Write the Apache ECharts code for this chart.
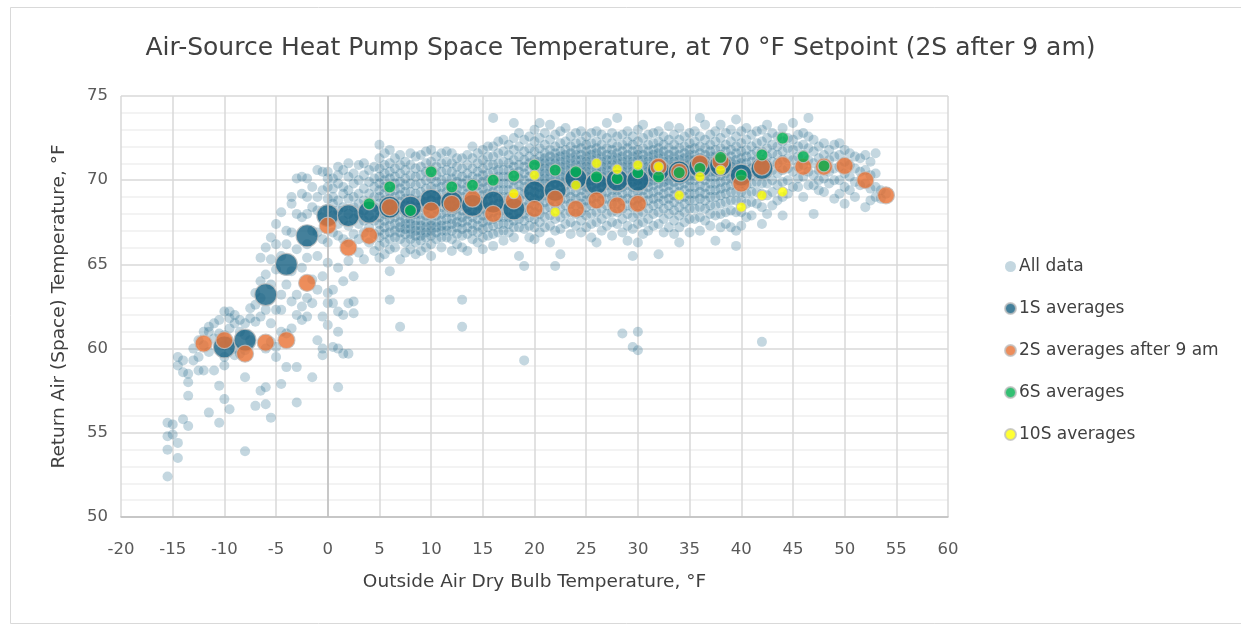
<!DOCTYPE html>
<html>
<head>
<meta charset="utf-8">
<script src="https://cdn.jsdelivr.net/npm/echarts@6/dist/echarts.min.js"></script>
<style>
html,body{margin:0;padding:0;background:#fff;}
#chart{width:1241px;height:624px;}
</style>
</head>
<body>
<div id="chart"></div>
<script>
// ---- Averages ----
const s1X = [-10,-8,-6,-4,-2,0,2,4,6,8,10,12,14,16,18,20,22,24,26,28,30,32,34,36,38,40,42];
const s1Y = [60.1,60.5,63.2,65.0,66.7,67.9,67.9,68.1,68.4,68.4,68.8,68.7,68.5,68.7,68.3,69.3,69.4,70.1,69.8,70.0,70.0,70.6,70.5,70.8,70.9,70.3,70.7];

const s2X = [-12,-10,-8,-6,-4,-2,0,2,4,6,10,12,14,16,18,20,22,24,26,28,30,32,34,36,38,40,42,44,46,48,50,52,54];
const s2Y = [60.3,60.5,59.7,60.35,60.5,63.9,67.3,66.0,66.7,68.4,68.2,68.6,68.9,68.0,68.8,68.3,68.9,68.3,68.8,68.5,68.6,70.8,70.5,71.0,71.1,69.8,70.8,70.9,70.8,70.8,70.85,70.0,69.1];

const s6X = [4,6,8,10,12,14,16,18,20,22,24,26,28,30,32,34,36,38,40,42,44,46,48];
const s6Y = [68.6,69.6,68.2,70.5,69.6,69.7,70.0,70.25,70.9,70.6,70.5,70.2,70.1,70.45,70.2,70.45,70.7,71.35,70.3,71.5,72.5,71.4,70.85];

const s10X = [18,20,22,24,26,28,30,32,34,36,38,40,42,44];
const s10Y = [69.2,70.3,68.1,69.7,71.0,70.65,70.9,70.8,69.1,70.2,70.6,68.4,69.1,69.3];

// ---- All data (estimated cloud, grouped by outside-air temperature) ----
const cloudX = [
-15.5,-15,-14.5,-14,-13.5,-13,-12.5,-12,-11.5,-11,-10.5,-10,-9.5,-9,-8.5,-8,-7.5,-7,-6.5,-6,-5.5,-5,-4.5,-4,-3.5,-3,-2.5,-2,-1.5,-1,-0.5,
0,0.5,1,1.5,2,2.5,3,3.5,4,4.5,
5,5.5,6,6.5,7,7.5,8,8.5,9,9.5,10,10.5,11,11.5,12,12.5,13,13.5,14,14.5,15,15.5,16,16.5,17,17.5,18,18.5,19,19.5,20,
20.5,21,21.5,22,22.5,23,23.5,24,24.5,25,25.5,26,26.5,27,27.5,28,28.5,29,29.5,30,
30.5,31,31.5,32,32.5,33,33.5,34,34.5,35,35.5,36,36.5,37,37.5,38,38.5,39,39.5,40,
40.5,41,41.5,42,42.5,43,43.5,44,44.5,45,45.5,46,46.5,47,47.5,48,48.5,49,49.5,50,
50.5,51,51.5,52,52.5,53,53.5,54
];
const cloudY = [
[55.6,54.8,54.0,52.4],
[55.5,54.9],
[59.5,59.0,54.4,53.5],
[59.3,58.6,55.8],
[58.5,58.0,57.2,55.4],
[60.0,59.3],
[60.5,59.5,58.7],
[61.0,60.2,58.7],
[61.3,61.0,59.8,56.2],
[61.5,60.6,58.7],
[61.7,60.9,57.8,55.6],
[62.2,60.8,60.2,59.5,59.0,57.0],
[62.2,61.8,61.2,60.4,56.4],
[62.0,61.5,60.0,59.6],
[61.7,61.0,59.7],
[61.5,60.8,59.9,58.3,53.9],
[62.4,61.8,60.5],
[63.3,62.6,61.6,56.6],
[65.4,64.0,63.0,61.9,57.5],
[66.0,64.4,62.3,60.0,57.7,56.7],
[66.6,65.3,63.8,61.5,60.4,55.9],
[67.4,66.2,64.7,62.3,60.1,59.5],
[68.1,65.5,63.2,62.3,61.0,57.9],
[67.0,66.2,63.8,60.9,58.9],
[69.0,68.6,66.9,64.6,62.8,61.2],
[70.1,68.0,65.9,63.2,62.0,58.9,56.8],
[70.2,69.2,67.8,64.8,62.5,61.7],
[70.1,69.0,68.0,66.2,65.4,63.0,61.9],
[69.6,68.4,67.0,64.1,62.7,58.3],
[70.6,69.0,68.2,66.9,65.5,63.5,60.5],
[70.5,69.4,67.8,66.5,64.3,61.9,60.0,59.6],
[70.5,70.1,69.6,68.9,68.3,67.5,66.3,65.1,63.3,62.7,61.4],
[70.1,69.5,69.0,68.6,67.9,66.9,63.5,62.7,60.1],
[70.8,70.3,69.8,68.8,68.2,67.4,66.7,64.8,62.2,61.0,60.0,57.7],
[70.6,69.6,69.2,68.4,67.6,66.5,64.0,62.0,59.7],
[71.0,70.2,69.4,68.9,68.0,67.3,66.3,65.2,62.7,59.7],
[70.4,69.8,69.0,68.4,67.7,66.8,64.3,62.8,62.1],
[70.9,70.0,69.2,68.6,68.0,67.4,66.5,65.7],
[71.0,70.3,69.5,68.8,68.2,67.6,66.9,65.3],
[70.6,69.9,69.2,68.6,67.9,67.2,66.3],
[70.8,70.1,69.6,69.0,68.4,67.6,66.8,65.8],
[72.1,71.3,70.7,70.2,69.8,69.4,69.0,68.6,68.2,67.8,67.4,67.0,66.6,66.1,65.4],
[71.6,70.9,70.4,70.0,69.6,69.2,68.8,68.4,68.0,67.6,67.2,66.8,66.3,65.6],
[71.8,71.0,70.5,70.1,69.7,69.3,68.9,68.5,68.1,67.7,67.3,66.9,66.5,65.9,64.6,62.9],
[71.3,70.7,70.2,69.8,69.4,69.0,68.6,68.2,67.8,67.4,67.0,66.6,66.0],
[71.5,70.9,70.4,69.9,69.5,69.1,68.7,68.3,67.9,67.5,67.2,66.9,66.5,65.3,61.3],
[71.1,70.6,70.1,69.7,69.3,68.9,68.5,68.1,67.7,67.4,67.1,66.8,66.3,65.7],
[71.6,70.9,70.3,69.8,69.3,68.9,68.5,68.1,67.7,67.4,67.1,66.8,66.5,65.9],
[71.4,70.7,70.2,69.7,69.2,68.8,68.4,68.0,67.6,67.3,67.0,66.7,66.3,65.6],
[71.5,70.8,70.3,69.8,69.3,68.8,68.4,68.0,67.6,67.3,67.0,66.7,66.4,65.8],
[71.7,71.0,70.5,70.0,69.5,69.1,68.7,68.3,67.9,67.5,67.2,66.9,66.6,66.0],
[71.8,71.1,70.6,70.1,69.6,69.2,68.8,68.4,68.0,67.6,67.3,67.0,66.7,66.2,65.5],
[71.4,70.8,70.3,69.9,69.5,69.1,68.7,68.3,67.9,67.5,67.2,66.9,66.5],
[71.6,71.0,70.5,70.0,69.6,69.2,68.8,68.4,68.0,67.6,67.3,67.0,66.6,66.0],
[71.7,71.1,70.6,70.1,69.7,69.3,68.9,68.5,68.1,67.7,67.3,67.0,66.6],
[71.6,71.0,70.5,70.1,69.7,69.3,68.9,68.5,68.1,67.7,67.4,67.0,66.5,65.8],
[71.3,70.8,70.3,69.9,69.5,69.1,68.7,68.3,67.9,67.5,67.2,66.8,66.2],
[71.3,70.7,70.2,69.8,69.4,69.0,68.6,68.2,67.8,67.5,67.1,66.7,66.0,62.9,61.3],
[71.5,70.9,70.4,70.0,69.6,69.2,68.8,68.4,68.0,67.6,67.2,66.8,65.8],
[72.0,71.3,70.7,70.2,69.8,69.4,69.0,68.6,68.2,67.8,67.4,67.0,66.5],
[71.6,71.0,70.5,70.1,69.7,69.3,68.9,68.5,68.1,67.7,67.3,66.9,66.3],
[71.8,71.2,70.7,70.3,69.9,69.5,69.1,68.7,68.3,67.9,67.5,67.1,66.6,65.9],
[72.0,71.4,70.9,70.4,70.0,69.6,69.2,68.8,68.4,68.0,67.6,67.2,66.7],
[73.7,72.0,71.4,70.9,70.5,70.1,69.7,69.3,68.9,68.5,68.1,67.7,67.3,66.8,66.1],
[72.3,71.6,71.0,70.6,70.2,69.8,69.4,69.0,68.6,68.2,67.8,67.4,66.9],
[72.4,71.7,71.1,70.6,70.2,69.8,69.4,69.0,68.6,68.2,67.8,67.4,67.0,66.4],
[72.1,71.5,71.0,70.6,70.2,69.8,69.4,69.0,68.6,68.2,67.8,67.4,66.9],
[73.4,72.5,71.8,71.2,70.8,70.4,70.0,69.6,69.2,68.8,68.4,68.0,67.6,67.2,66.6],
[72.8,72.0,71.4,70.9,70.5,70.1,69.7,69.3,68.9,68.5,68.1,67.7,67.2,65.5],
[72.4,71.7,71.2,70.8,70.4,70.0,69.6,69.2,68.8,68.4,68.0,67.6,67.1,64.9,59.3],
[72.6,71.9,71.4,71.0,70.6,70.2,69.8,69.4,69.0,68.6,68.2,67.8,67.3,66.6],
[73.0,72.3,71.7,71.2,70.8,70.4,70.0,69.7,69.3,68.9,68.5,68.1,67.7,67.2,66.5],
[73.4,72.5,71.9,71.4,71.1,70.8,70.5,70.2,69.9,69.6,69.2,68.8,68.4,68.0,67.5,66.9],
[72.8,72.1,71.6,71.3,71.0,70.7,70.4,70.1,69.8,69.5,69.1,68.7,68.3,67.8,67.2],
[73.3,72.4,71.8,71.4,71.1,70.8,70.5,70.2,69.9,69.6,69.2,68.8,68.4,67.9,67.3,66.3],
[72.7,72.0,71.6,71.3,71.0,70.7,70.4,70.1,69.8,69.4,69.0,68.6,68.2,67.7,67.0,64.9],
[72.9,72.2,71.7,71.4,71.1,70.8,70.5,70.2,69.9,69.6,69.2,68.8,68.3,67.8,67.1,65.6],
[73.1,72.3,71.8,71.5,71.2,70.9,70.6,70.3,70.0,69.7,69.3,68.9,68.5,68.0,67.4],
[72.6,72.0,71.6,71.3,71.0,70.7,70.4,70.1,69.8,69.4,69.0,68.6,68.1,67.5,66.8],
[72.8,72.2,71.8,71.5,71.2,70.9,70.6,70.3,70.0,69.7,69.3,68.9,68.5,68.0,67.3],
[72.9,72.3,71.9,71.5,71.2,70.9,70.6,70.3,70.0,69.7,69.4,69.0,68.6,68.1,67.6,66.9],
[72.6,72.1,71.7,71.4,71.1,70.8,70.5,70.2,69.9,69.6,69.2,68.8,68.4,67.9,67.2],
[72.8,72.2,71.8,71.5,71.2,70.9,70.6,70.3,70.0,69.7,69.3,68.9,68.5,68.0,67.4,66.6],
[72.9,72.3,71.9,71.6,71.3,71.0,70.7,70.4,70.1,69.8,69.4,69.0,68.6,68.1,67.5,66.3],
[72.7,72.1,71.7,71.4,71.1,70.8,70.5,70.2,69.9,69.6,69.2,68.8,68.3,67.7,67.0],
[73.4,72.5,71.9,71.5,71.2,70.9,70.6,70.3,70.0,69.7,69.3,68.9,68.5,68.0,67.3],
[72.8,72.2,71.8,71.5,71.2,70.9,70.6,70.3,70.0,69.7,69.4,69.0,68.6,68.1,67.5,66.7],
[73.7,72.6,72.0,71.6,71.3,71.0,70.7,70.4,70.1,69.8,69.4,69.0,68.6,68.1,67.4],
[72.7,72.1,71.7,71.4,71.1,70.8,70.5,70.2,69.9,69.6,69.2,68.8,68.3,67.7,66.9,60.9],
[72.9,72.3,71.9,71.5,71.2,70.9,70.6,70.3,70.0,69.7,69.3,68.9,68.5,68.0,67.3,66.4],
[72.6,72.1,71.7,71.4,71.1,70.8,70.5,70.2,69.9,69.6,69.2,68.8,68.4,67.8,67.1,65.5,60.1],
[73.0,72.3,71.8,71.5,71.2,70.9,70.6,70.3,70.0,69.7,69.3,68.9,68.5,68.0,67.4,66.3,61.0,59.9],
[73.3,72.5,71.9,71.5,71.2,70.9,70.6,70.3,70.0,69.7,69.4,69.0,68.6,68.1,67.5,66.8],
[72.7,72.1,71.7,71.4,71.1,70.8,70.5,70.2,69.9,69.6,69.2,68.8,68.3,67.7,67.0],
[72.8,72.2,71.8,71.5,71.2,70.9,70.6,70.3,70.0,69.7,69.3,68.9,68.5,68.0,67.3],
[72.9,72.3,71.9,71.6,71.3,71.0,70.7,70.4,70.1,69.8,69.4,69.0,68.6,68.1,67.4,65.6],
[72.6,72.1,71.7,71.4,71.1,70.8,70.5,70.2,69.9,69.6,69.2,68.8,68.3,67.7,66.9],
[73.2,72.4,71.9,71.5,71.2,70.9,70.6,70.3,70.0,69.7,69.3,68.9,68.5,68.0,67.2],
[72.7,72.1,71.7,71.4,71.1,70.8,70.5,70.2,69.9,69.5,69.1,68.7,68.2,67.6,66.8],
[73.1,72.4,71.9,71.5,71.2,70.9,70.6,70.3,70.0,69.7,69.3,68.9,68.4,67.9,67.2,66.3],
[72.6,72.0,71.6,71.3,71.0,70.7,70.4,70.1,69.8,69.4,69.0,68.6,68.1,67.5],
[72.8,72.2,71.8,71.5,71.2,70.9,70.6,70.3,70.0,69.6,69.2,68.8,68.3,67.7,66.9],
[72.9,72.3,71.9,71.5,71.2,70.9,70.6,70.3,70.0,69.6,69.2,68.8,68.3,67.7],
[73.7,72.6,72.0,71.6,71.3,71.0,70.7,70.4,70.1,69.7,69.3,68.9,68.4,67.8,67.0],
[73.3,72.4,71.9,71.5,71.2,70.9,70.6,70.3,70.0,69.6,69.2,68.8,68.3,67.6],
[72.7,72.1,71.7,71.4,71.1,70.8,70.5,70.2,69.8,69.4,69.0,68.5,68.0,67.3],
[72.9,72.3,71.8,71.4,71.1,70.8,70.5,70.2,69.8,69.4,69.0,68.5,67.9,66.4],
[73.3,72.5,71.9,71.5,71.2,70.9,70.6,70.3,69.9,69.5,69.1,68.6,68.0,67.2],
[72.8,72.1,71.7,71.3,71.0,70.7,70.4,70.0,69.6,69.2,68.7,68.1,67.4],
[73.0,72.3,71.8,71.4,71.1,70.8,70.5,70.1,69.7,69.3,68.8,68.2,67.2],
[73.6,72.6,72.0,71.6,71.2,70.9,70.6,70.2,69.8,69.3,68.8,68.1,67.0,66.1],
[72.9,72.2,71.7,71.3,71.0,70.6,70.2,69.8,69.3,68.8,68.1,67.3],
[73.1,72.4,71.8,71.4,71.0,70.6,70.2,69.7,69.2,68.6,67.8],
[72.7,72.0,71.5,71.1,70.7,70.3,69.8,69.3,68.7,67.9],
[72.9,72.2,71.7,71.2,70.8,70.4,69.9,69.3,68.6],
[73.0,72.3,71.7,71.2,70.8,70.3,69.8,69.2,68.4,67.4,60.4],
[73.3,72.5,71.9,71.4,70.9,70.4,69.8,69.1,68.0],
[72.8,72.1,71.6,71.1,70.6,70.0,69.3,68.5],
[72.6,72.0,71.5,71.0,70.4,69.7,68.8],
[73.1,72.3,71.7,71.2,70.6,69.9,69.0,67.9],
[72.5,71.9,71.3,70.7,70.0,69.2],
[73.4,72.4,71.8,71.2,70.5,69.6],
[72.7,72.0,71.4,70.8,70.1,69.6],
[72.8,72.1,71.5,70.9,70.2,69.0],
[73.7,72.6,71.9,71.2,70.5,69.7],
[72.4,71.7,71.0,70.3,69.7,68.0],
[72.0,71.3,70.6,70.0,69.4],
[72.2,71.5,70.8,70.1,69.3],
[71.8,71.2,70.5,69.8],
[72.1,71.4,70.7,70.0,68.9],
[72.2,71.5,70.8,70.0,69.2],
[71.8,71.1,70.4,69.6,68.6],
[71.6,70.9,70.2,69.4],
[71.4,70.7,69.9,69.0],
[71.3,70.5,69.7],
[71.5,70.6,69.8,68.4],
[71.1,70.3,69.5,68.8],
[71.6,70.4,69.6,69.0],
[69.4,68.9],
[69.2]
];

// ---- Axes ----
const xTicks = {min: -20, max: 60, step: 5};
const yTicks = {min: 50, max: 75, step: 5};

const pairs = (xs, ys) => xs.map((x, i) => [x, ys[i]]);
const cloudData = [];
cloudX.forEach((x, i) => cloudY[i].forEach(y => cloudData.push([x, y])));

const FONT = 'DejaVu Sans';
const chart = echarts.init(document.getElementById('chart'), null, {renderer: 'canvas'});
const border = {borderColor: '#bfbfbf', borderWidth: 1.2};

chart.setOption({
  animation: false,
  backgroundColor: '#ffffff',
  textStyle: {fontFamily: FONT},
  graphic: [{
    type: 'rect', left: 8, top: 5, shape: {width: 1245, height: 616},
    style: {fill: 'none', stroke: '#d9d9d9', lineWidth: 1}, silent: true, z: -1
  }],
  title: {
    text: 'Air-Source Heat Pump Space Temperature, at 70 °F Setpoint (2S after 9 am)',
    left: 'center', top: 31,
    textStyle: {fontFamily: FONT, fontSize: 25, fontWeight: 'normal', color: '#404040'}
  },
  legend: {
    orient: 'vertical', left: 999, top: 253,
    itemGap: 25, itemWidth: 11, itemHeight: 11, icon: 'circle',
    textStyle: {fontFamily: FONT, fontSize: 17, color: '#404040', padding: [0, 0, 0, -2]},
    data: ['All data', '1S averages', '2S averages after 9 am', '6S averages', '10S averages']
  },
  grid: {left: 121, right: 293, top: 96, bottom: 107},
  xAxis: {
    type: 'value', min: xTicks.min, max: xTicks.max, interval: xTicks.step,
    name: 'Outside Air Dry Bulb Temperature, °F', nameLocation: 'middle', nameGap: 56,
    nameTextStyle: {fontFamily: FONT, fontSize: 18.5, color: '#404040'},
    axisLine: {show: true, onZero: false, lineStyle: {color: '#bfbfbf', width: 1.5}},
    axisTick: {show: false},
    axisLabel: {fontFamily: FONT, fontSize: 16.5, color: '#595959', margin: 24},
    splitLine: {show: true, lineStyle: {color: '#d9d9d9', width: 1.5}}
  },
  yAxis: {
    type: 'value', min: yTicks.min, max: yTicks.max, interval: yTicks.step,
    name: 'Return Air (Space) Temperature, °F', nameLocation: 'middle', nameGap: 52, nameRotate: 90,
    nameTextStyle: {fontFamily: FONT, fontSize: 18.5, color: '#404040'},
    axisLine: {show: false},
    axisTick: {show: false},
    axisLabel: {fontFamily: FONT, fontSize: 16.5, color: '#595959', margin: 13},
    splitLine: {show: true, lineStyle: {color: '#d9d9d9', width: 1.5}},
    minorTick: {show: false, splitNumber: 5},
    minorSplitLine: {show: true, lineStyle: {color: '#efefef', width: 1.5}}
  },
  series: [
    {
      name: 'All data', type: 'scatter', symbol: 'circle', symbolSize: 10, silent: true,
      itemStyle: {color: '#156082', opacity: 0.25},
      data: cloudData,
      markLine: {
        silent: true, symbol: 'none', label: {show: false},
        lineStyle: {color: '#bfbfbf', width: 1.5, type: 'solid'},
        data: [{xAxis: 0}]
      },
      z: 2
    },
    {
      name: '1S averages', type: 'scatter', symbol: 'circle', symbolSize: 22,
      itemStyle: Object.assign({color: '#156082'}, border),
      data: pairs(s1X, s1Y), z: 3
    },
    {
      name: '2S averages after 9 am', type: 'scatter', symbol: 'circle', symbolSize: 17,
      itemStyle: Object.assign({color: '#e97132'}, border),
      data: pairs(s2X, s2Y), z: 4
    },
    {
      name: '6S averages', type: 'scatter', symbol: 'circle', symbolSize: 12,
      itemStyle: Object.assign({color: '#00b050'}, border),
      data: pairs(s6X, s6Y), z: 5
    },
    {
      name: '10S averages', type: 'scatter', symbol: 'circle', symbolSize: 10,
      itemStyle: Object.assign({color: '#ffff00'}, border),
      data: pairs(s10X, s10Y), z: 6
    }
  ]
});
</script>
</body>
</html>
